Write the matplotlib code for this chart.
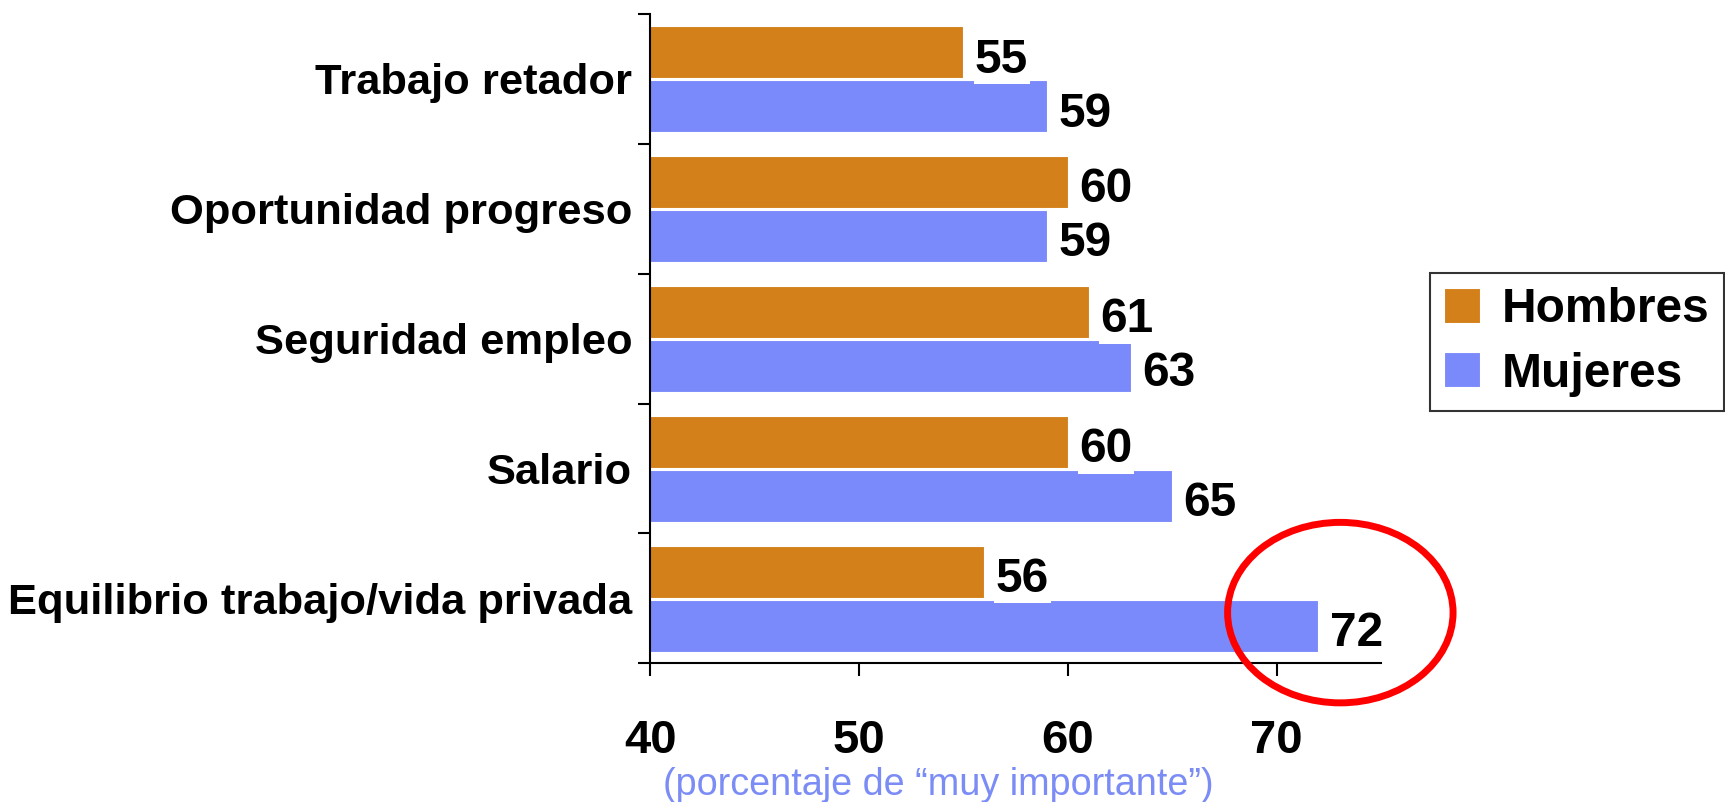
import numpy as np
import matplotlib
matplotlib.use("Agg")
import matplotlib.pyplot as plt
from matplotlib.patches import Ellipse

plt.rcParams["font.family"] = ["Liberation Sans", "DejaVu Sans"]

categories = [
    "Trabajo retador",
    "Oportunidad progreso",
    "Seguridad empleo",
    "Salario",
    "Equilibrio trabajo/vida privada",
]
hombres = [55, 60, 61, 60, 56]
mujeres = [59, 59, 63, 65, 72]
series_names = ["Hombres", "Mujeres"]
xticks = [40, 50, 60, 70]
xlabel = "(porcentaje de \u201cmuy importante\u201d)"

c_h = "#D3801A"
c_m = "#7A8AFA"

fig = plt.figure(figsize=(17.25, 8.02), dpi=100)
ax = fig.add_axes([0.377, 0.173, 0.8006 - 0.377, 0.9825 - 0.173])

y = np.arange(len(categories))
h = 0.4
ax.barh(y - 0.205, hombres, height=h, left=0, color=c_h, label=series_names[0],
        edgecolor="white", linewidth=0.8)
ax.barh(y + 0.21, mujeres, height=h, left=0, color=c_m, label=series_names[1],
        edgecolor="white", linewidth=0.8)

for yi, v in zip(y - 0.205, hombres):
    ax.text(v + 0.55, yi + 0.06, str(v), va="center", ha="left", fontsize=34.5,
            fontweight="bold", zorder=5,
            bbox=dict(facecolor="white", edgecolor="none", pad=1.0))
for yi, v in zip(y + 0.21, mujeres):
    ax.text(v + 0.55, yi + 0.06, str(v), va="center", ha="left", fontsize=34.5,
            fontweight="bold", zorder=5,
            bbox=dict(facecolor="white", edgecolor="none", pad=1.0))

ax.set_xlim(40, 75)
ax.set_ylim(len(categories) - 0.5, -0.5)

ax.set_xticks(xticks)
ax.set_xticklabels([str(t) for t in xticks], fontsize=34, fontweight="bold")
ax.tick_params(axis="x", direction="out", length=9, width=1.5, pad=31)

ax.set_yticks(y)
ax.set_yticklabels(categories, fontsize=31.3, fontweight="bold")
ax.tick_params(axis="y", which="major", length=0, pad=13)
ax.set_yticks(np.arange(len(categories) + 1) - 0.5, minor=True)
ax.tick_params(axis="y", which="minor", direction="out", length=9, width=1.5)

for s in ["top", "right"]:
    ax.spines[s].set_visible(False)
for s in ["left", "bottom"]:
    ax.spines[s].set_linewidth(1.5)

fig.text(0.544, 0.021, xlabel, ha="center", va="center", fontsize=27.2,
         color="#7B8CF5")

# highlight circle around the largest value
ell = Ellipse((73.05, 4.11), width=10.8, height=1.39, fill=False,
              edgecolor="red", linewidth=5, clip_on=False, zorder=6)
ax.add_patch(ell)

leg = fig.legend(loc="upper right", bbox_to_anchor=(1724 / 1725, 1 - 273 / 802),
                 prop={"weight": "bold", "size": 34.5},
                 frameon=True, fancybox=False, edgecolor="black",
                 handlelength=0.75, handleheight=0.75, handletextpad=0.45,
                 labelspacing=0.4, borderpad=0.3, borderaxespad=0)
leg.get_frame().set_linewidth(1.5)

fig.savefig("out.png", dpi=100)
